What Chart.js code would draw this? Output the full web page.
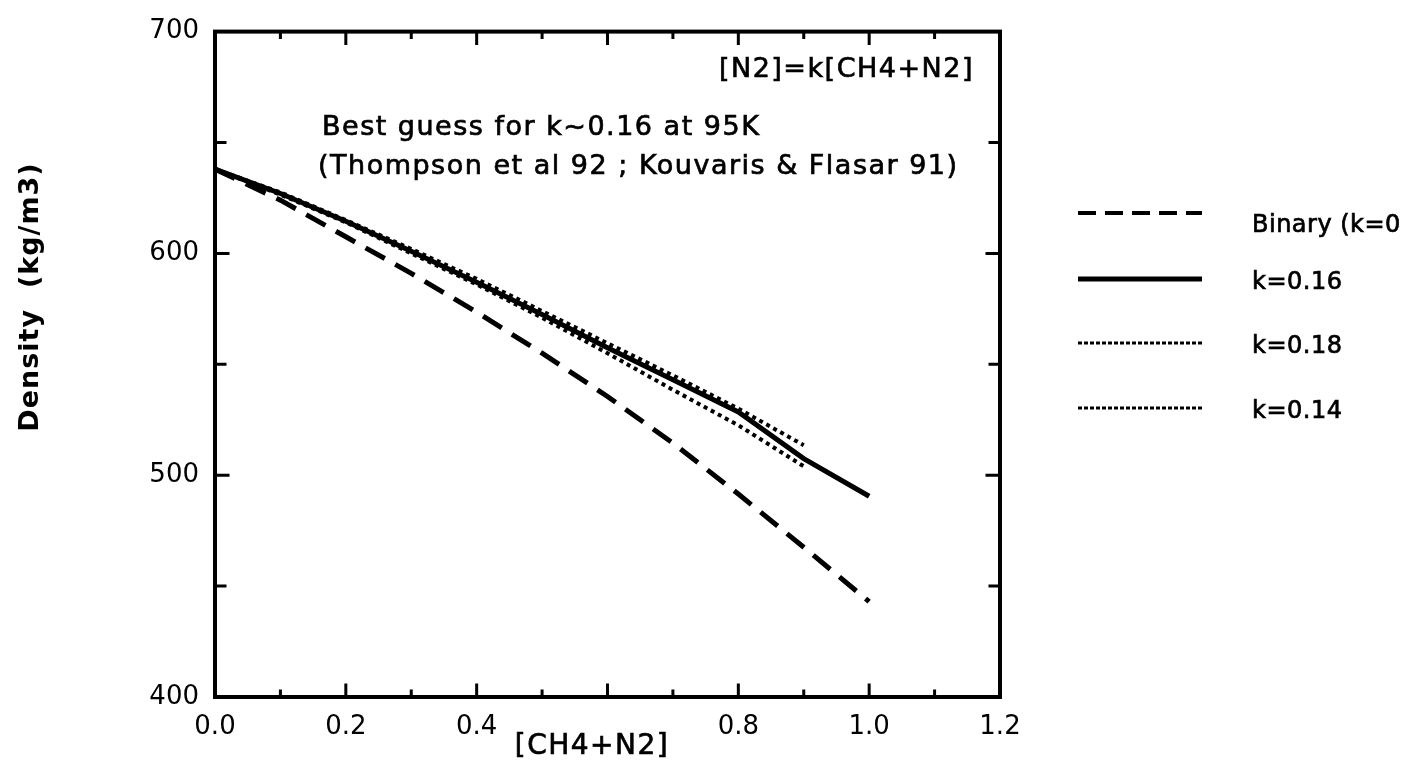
<!DOCTYPE html>
<html>
<head>
<meta charset="utf-8">
<title>Density vs [CH4+N2]</title>
<script src="https://cdn.jsdelivr.net/npm/chart.js@4.4.1/dist/chart.umd.min.js"></script>
<style>
  html, body { margin: 0; padding: 0; background: #fff; }
  #wrap { width: 1424px; height: 770px; position: relative; }
</style>
</head>
<body>
<div id="wrap"><canvas id="density-chart"></canvas></div>
<script>
// mole fraction of CH4+N2 in the liquid
const xFull = [0, 0.1, 0.2, 0.3, 0.4, 0.5, 0.6, 0.7, 0.8, 0.9, 1.0];
const xShort = [0, 0.1, 0.2, 0.3, 0.4, 0.5, 0.6, 0.7, 0.8, 0.9];

// density (kg/m3)
const binaryK0 = [638, 624, 607.5, 591, 573.5, 555, 535.5, 514.5, 491.5, 467.5, 443];
const k016 = [638, 627, 614.5, 601, 587, 572.5, 557.5, 543, 528.5, 507.5, 490.5];
const k018 = [638, 627.5, 615, 602, 588.5, 574, 559.5, 545, 530, 513.5];
const k014 = [638, 626.5, 614, 600, 586, 571, 555, 538.5, 522.5, 504];

const seriesLabels = ['Binary (k=0', 'k=0.16', 'k=0.18', 'k=0.14'];

const xTicks = [0.0, 0.2, 0.4, 0.8, 1.0, 1.2];   // 0.6 is hidden under the axis title
const yTicks = [400, 500, 600, 700];

const FONT = '"DejaVu Sans", "Liberation Sans", Arial, sans-serif';

const pts = (xs, ys) => xs.map((x, i) => ({ x, y: ys[i] }));

// frame + inward ticks on all four sides, from the chart's own scales
const framePlugin = {
  id: 'frame',
  afterDatasetsDraw(chart) {
    const { ctx, chartArea: a, scales: { x, y } } = chart;
    ctx.save();
    ctx.strokeStyle = '#000';
    ctx.lineCap = 'square';
    ctx.lineWidth = 3;
    x.ticks.forEach((t) => {
      const px = x.getPixelForValue(t.value);
      const major = Math.round(t.value * 10) % 2 === 0;
      const len = major ? 12 : 6;
      ctx.beginPath();
      ctx.moveTo(px, a.bottom); ctx.lineTo(px, a.bottom - len);
      ctx.moveTo(px, a.top); ctx.lineTo(px, a.top + len);
      ctx.stroke();
    });
    y.ticks.forEach((t) => {
      const py = y.getPixelForValue(t.value);
      const len = t.value % 100 === 0 ? 13 : 10;
      ctx.beginPath();
      ctx.moveTo(a.left, py); ctx.lineTo(a.left + len, py);
      ctx.moveTo(a.right, py); ctx.lineTo(a.right - len, py);
      ctx.stroke();
    });
    ctx.lineWidth = 4;
    ctx.strokeRect(a.left, a.top, a.right - a.left, a.bottom - a.top);
    ctx.restore();
  },
};

// heavier text, like the scanned original
function inkText(ctx, str, x, y) {
  ctx.fillText(str, x, y);
  ctx.strokeText(str, x, y);
}

// titles, notes and the legend at the right
const textPlugin = {
  id: 'texts',
  afterDraw(chart) {
    const { ctx } = chart;
    ctx.save();
    ctx.fillStyle = '#000';
    ctx.strokeStyle = '#000';
    ctx.lineWidth = 0.7;
    ctx.textBaseline = 'middle';
    ctx.letterSpacing = '1.5px';

    ctx.font = `27px ${FONT}`;
    ctx.textAlign = 'right';
    inkText(ctx, '[N2]=k[CH4+N2]', 974, 70);
    ctx.textAlign = 'left';
    inkText(ctx, 'Best guess for k~0.16 at 95K', 322, 128);
    inkText(ctx, '(Thompson et al 92 ; Kouvaris & Flasar 91)', 318, 167);

    ctx.font = `28px ${FONT}`;
    ctx.textAlign = 'center';
    inkText(ctx, '[CH4+N2]', 592, 747);

    ctx.save();
    ctx.translate(31, 297);
    ctx.rotate(-Math.PI / 2);
    ctx.font = `bold 27px ${FONT}`;
    ctx.letterSpacing = '1px';
    ctx.fillText('Density  (kg/m3)', 0, 0);
    ctx.restore();

    // legend
    const rows = [213, 279, 343, 408];
    const textY = [226, 283, 347, 412];
    const widths = [4, 5, 3, 3];
    chart.data.datasets.forEach((ds, i) => {
      ctx.save();
      ctx.lineWidth = widths[i];
      ctx.setLineDash(i === 0 ? [18, 9] : (i === 1 ? [] : [4, 2]));
      ctx.beginPath();
      ctx.moveTo(1078, rows[i]);
      ctx.lineTo(1202, rows[i]);
      ctx.stroke();
      ctx.restore();
      ctx.font = `24px ${FONT}`;
      ctx.letterSpacing = '0.5px';
      ctx.textAlign = 'left';
      inkText(ctx, ds.label, 1252, textY[i]);
    });
    ctx.restore();
  },
};

const lineBase = { showLine: true, pointRadius: 0, borderColor: '#000', backgroundColor: '#000', fill: false, tension: 0 };

new Chart(document.getElementById('density-chart'), {
  type: 'scatter',
  data: {
    datasets: [
      { ...lineBase, label: seriesLabels[0], data: pts(xFull, binaryK0), borderWidth: 5, borderDash: [22, 12] },
      { ...lineBase, label: seriesLabels[1], data: pts(xFull, k016), borderWidth: 5 },
      { ...lineBase, label: seriesLabels[2], data: pts(xShort, k018), borderWidth: 4, borderDash: [4, 4] },
      { ...lineBase, label: seriesLabels[3], data: pts(xShort, k014), borderWidth: 4, borderDash: [4, 4] },
    ],
  },
  options: {
    responsive: true,
    maintainAspectRatio: false,
    animation: false,
    layout: { padding: { top: 26, right: 424, left: 0, bottom: 0 } },
    plugins: { legend: { display: false }, tooltip: { enabled: false } },
    scales: {
      x: {
        type: 'linear', min: 0, max: 1.2,
        grid: { display: false, drawTicks: false },
        border: { display: false },
        afterFit: (s) => { s.height = 73; },
        ticks: {
          stepSize: 0.1, autoSkip: false, maxRotation: 0, padding: 15,
          color: '#000', font: { family: FONT, size: 26 },
          callback: (v) => {
            const hit = xTicks.find((t) => Math.abs(t - v) < 1e-6);
            return hit === undefined ? '' : hit.toFixed(1);
          },
        },
      },
      y: {
        type: 'linear', min: 400, max: 700,
        grid: { display: false, drawTicks: false },
        border: { display: false },
        afterFit: (s) => { s.width = 215; },
        ticks: {
          stepSize: 50, autoSkip: false, padding: 16,
          color: '#000', font: { family: FONT, size: 26 },
          callback: (v) => (yTicks.includes(v) ? String(v) : ''),
        },
      },
    },
  },
  plugins: [framePlugin, textPlugin],
});
</script>
</body>
</html>
